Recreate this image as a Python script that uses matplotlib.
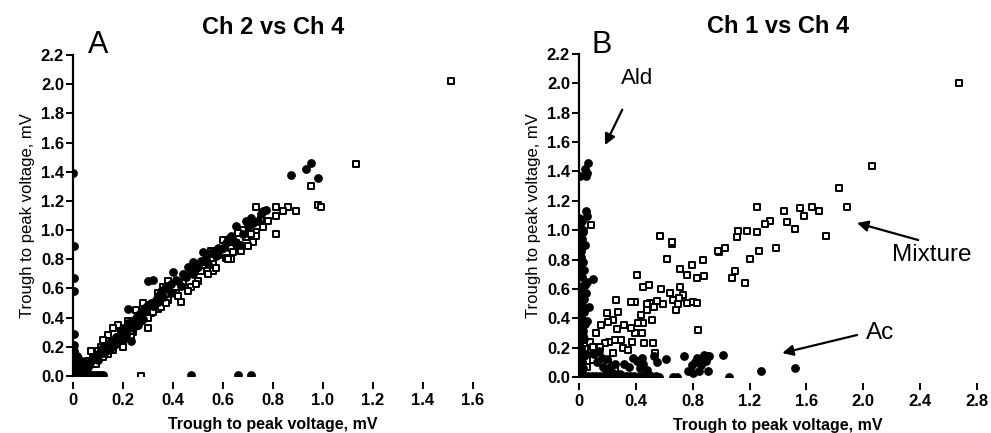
import numpy as np
import matplotlib.pyplot as plt

# Panel A: Ch 2 (x) vs Ch 4 (y)
a_circ_x = [0.0, 0.005, 0.005, 0.004, 0.004, 0.004, 0.003, 0.005, 0.004, 0.006, 0.005, 0.004, 0.003,
            0.01, 0.02, 0.03, 0.04, 0.05, 0.06, 0.07, 0.08, 0.09, 0.10, 0.11, 0.12, 0.47, 0.66, 0.71,
            0.02, 0.03, 0.04, 0.05, 0.03, 0.02, 0.01, 0.01, 0.015, 0.02, 0.025, 0.035, 0.045, 0.05,
            0.02, 0.06, 0.015, 0.03, 0.04,
            0.05, 0.07, 0.08, 0.10, 0.11, 0.12, 0.13, 0.14, 0.15, 0.16, 0.17, 0.18, 0.19, 0.20, 0.21,
            0.22, 0.22, 0.23, 0.24, 0.25, 0.26, 0.27, 0.28, 0.29, 0.30, 0.30, 0.32, 0.31, 0.33, 0.34,
            0.35, 0.36, 0.37, 0.38, 0.39, 0.40, 0.41, 0.42, 0.44, 0.45, 0.46, 0.47, 0.48, 0.49, 0.50,
            0.51, 0.52, 0.53, 0.55, 0.56, 0.58, 0.59, 0.60, 0.61, 0.62, 0.63, 0.65, 0.66, 0.67, 0.69,
            0.70, 0.71, 0.72, 0.75, 0.76, 0.77, 0.87, 0.93, 0.95, 0.98,
            0.06, 0.09, 0.12, 0.14, 0.17, 0.19, 0.21, 0.24, 0.26, 0.28, 0.32, 0.34, 0.36, 0.39, 0.43,
            0.48, 0.54, 0.57, 0.64, 0.68, 0.74, 0.10, 0.15, 0.23, 0.27]
a_circ_y = [1.39, 0.89, 0.67, 0.58, 0.29, 0.21, 0.17, 0.14, 0.11, 0.08, 0.06, 0.04, 0.02,
            0.005, 0.005, 0.005, 0.005, 0.005, 0.005, 0.005, 0.005, 0.005, 0.005, 0.005, 0.005, 0.005, 0.005, 0.005,
            0.04, 0.06, 0.03, 0.07, 0.10, 0.08, 0.02, 0.05, 0.08, 0.01, 0.03, 0.05, 0.06, 0.03,
            0.12, 0.06, 0.14, 0.02, 0.09,
            0.09, 0.10, 0.13, 0.15, 0.18, 0.20, 0.17, 0.22, 0.24, 0.21, 0.27, 0.26, 0.30, 0.33, 0.31,
            0.36, 0.46, 0.24, 0.38, 0.40, 0.42, 0.44, 0.45, 0.47, 0.49, 0.65, 0.66, 0.50, 0.52, 0.55,
            0.58, 0.59, 0.62, 0.60, 0.63, 0.71, 0.66, 0.65, 0.70, 0.68, 0.75, 0.72, 0.78, 0.74, 0.75,
            0.79, 0.85, 0.80, 0.84, 0.86, 0.88, 0.87, 0.88, 0.91, 0.94, 0.96, 1.03, 0.90, 0.90, 1.06,
            1.03, 1.08, 1.05, 1.11, 1.13, 1.14, 1.38, 1.42, 1.46, 1.36,
            0.08, 0.12, 0.16, 0.19, 0.22, 0.25, 0.28, 0.33, 0.35, 0.39, 0.48, 0.51, 0.54, 0.57, 0.62,
            0.70, 0.77, 0.82, 0.93, 0.97, 1.06, 0.11, 0.19, 0.34, 0.41]

a_sq_x = [1.51, 1.13, 0.95, 0.98, 0.99, 0.89, 0.86, 0.84, 0.81, 0.81, 0.81, 0.78, 0.75, 0.73, 0.73,
          0.73, 0.72, 0.70, 0.67, 0.68, 0.66, 0.63, 0.61, 0.60, 0.59, 0.56, 0.56, 0.55, 0.52, 0.51,
          0.50, 0.47, 0.44, 0.43, 0.41, 0.38, 0.36, 0.38, 0.34, 0.30, 0.28, 0.25, 0.24, 0.22, 0.19,
          0.18, 0.16, 0.14, 0.12, 0.11, 0.10, 0.07, 0.09, 0.06, 0.04, 0.27, 0.31, 0.34, 0.40, 0.45,
          0.48, 0.63, 0.20, 0.16, 0.14, 0.26, 0.23, 0.29, 0.33, 0.53, 0.58, 0.65, 0.69,
          0.08, 0.10, 0.13, 0.15, 0.17, 0.21, 0.23, 0.25, 0.27, 0.30, 0.32, 0.35, 0.37, 0.42, 0.46,
          0.49, 0.54, 0.57, 0.62, 0.64, 0.71, 0.76, 0.05, 0.12, 0.20]
a_sq_y = [2.02, 1.45, 1.30, 1.17, 1.16, 1.13, 1.16, 1.13, 1.16, 1.10, 0.97, 1.06, 1.07, 1.16, 0.99,
          0.96, 0.92, 0.89, 0.86, 1.00, 0.98, 0.88, 0.81, 0.93, 0.87, 0.72, 0.77, 0.86, 0.76, 0.72,
          0.65, 0.61, 0.64, 0.51, 0.57, 0.65, 0.61, 0.52, 0.57, 0.33, 0.50, 0.45, 0.30, 0.38, 0.32,
          0.35, 0.33, 0.28, 0.25, 0.20, 0.17, 0.17, 0.08, 0.10, 0.06, 0.0, 0.43, 0.46, 0.57, 0.68,
          0.70, 0.80, 0.20, 0.18, 0.15, 0.36, 0.27, 0.41, 0.48, 0.78, 0.83, 0.91, 0.95,
          0.12, 0.14, 0.19, 0.22, 0.24, 0.29, 0.31, 0.34, 0.38, 0.40, 0.44, 0.47, 0.50, 0.55, 0.58,
          0.63, 0.70, 0.74, 0.80, 0.85, 0.97, 1.02, 0.05, 0.13, 0.25]

# Panel B: Ch 1 (x) vs Ch 4 (y)
b_circ_x = [0.066, 0.042, 0.059, 0.050, 0.007, 0.050, 0.059, 0.026, 0.005, 0.030, 0.004, 0.019, 0.098,
            0.054, 0.049, 0.010, 0.068, 0.059, 0.012, 0.010, 0.004, 0.008, 0.002,
            0.003, 0.006, 0.004, 0.012, 0.005, 0.015, 0.003, 0.008, 0.006, 0.020, 0.004, 0.010,
            0.006, 0.014, 0.004, 0.009, 0.025, 0.003, 0.011, 0.035, 0.005,
            0.018, 0.030, 0.022, 0.040, 0.015, 0.028, 0.036, 0.020, 0.045, 0.012, 0.032, 0.024,
            0.038, 0.016, 0.042, 0.026, 0.034, 0.014, 0.048, 0.022, 0.030, 0.018,
            0.106, 0.129, 0.159, 0.171, 0.190, 0.218, 0.256, 0.317, 0.349, 0.378, 0.406, 0.453,
            0.476, 0.490, 0.530, 0.546, 0.612, 0.565, 0.664, 0.690, 0.739, 0.765, 0.793, 0.816,
            0.828, 0.851, 0.860, 0.879, 0.894, 0.910, 0.917, 0.910, 0.842, 0.800, 1.011, 1.053,
            1.278, 1.520, 0.14, 0.20, 0.24, 0.29, 0.43, 0.50, 0.44,
            0.03, 0.06, 0.09, 0.12, 0.15, 0.18, 0.21, 0.24, 0.27, 0.30, 0.33, 0.36, 0.39, 0.42, 0.45,
            0.48, 0.51, 0.54]
b_circ_y = [1.46, 1.42, 1.39, 1.37, 1.37, 1.13, 1.10, 1.00, 0.95, 0.89, 0.80, 0.72, 0.67,
            0.65, 0.57, 0.55, 0.48, 0.38, 0.38, 0.30, 0.25, 0.09, 0.05,
            1.08, 1.05, 1.02, 0.98, 0.92, 0.86, 0.84, 0.76, 0.70, 0.62, 0.60, 0.52,
            0.45, 0.42, 0.35, 0.33, 0.28, 0.22, 0.18, 0.14, 0.12,
            1.06, 0.99, 0.94, 0.90, 0.82, 0.78, 0.73, 0.68, 0.63, 0.58, 0.53, 0.49,
            0.44, 0.40, 0.36, 0.31, 0.26, 0.20, 0.16, 0.10, 0.06, 0.03,
            0.16, 0.10, 0.13, 0.07, 0.05, 0.07, 0.09, 0.09, 0.07, 0.13, 0.11, 0.09,
            0.05, 0.014, 0.14, 0.10, 0.12, 0.0, 0.0, 0.0, 0.14, 0.04, 0.08, 0.10,
            0.13, 0.12, 0.08, 0.15, 0.11, 0.14, 0.14, 0.04, 0.04, 0.03, 0.15, 0.0,
            0.04, 0.06, 0.18, 0.12, 0.03, 0.02, 0.06, 0.01, 0.13,
            0.005, 0.005, 0.005, 0.005, 0.005, 0.005, 0.005, 0.005, 0.005, 0.005, 0.005, 0.005,
            0.005, 0.005, 0.005, 0.005, 0.005, 0.005]

b_sq_x = [2.676, 2.064, 1.832, 1.883, 1.738, 1.691, 1.639, 1.585, 1.553, 1.517, 1.466, 1.440, 1.386,
          1.346, 1.309, 1.252, 1.255, 1.266, 1.201, 1.182, 1.119, 1.114, 1.170, 1.097, 1.079, 1.027,
          0.987, 0.980, 0.870, 0.797, 0.879, 0.828, 0.757, 0.711, 0.657, 0.619, 0.570, 0.410, 0.492,
          0.453, 0.579, 0.643, 0.591, 0.711, 0.664, 0.694, 0.680, 0.734, 0.760, 0.804, 0.828, 0.840,
          0.500, 0.528, 0.476, 0.516, 0.434, 0.453, 0.413, 0.392, 0.364, 0.396, 0.441, 0.457, 0.518,
          0.535, 0.373, 0.369, 0.317, 0.270, 0.295, 0.256, 0.263, 0.277, 0.237, 0.202, 0.199, 0.155,
          0.117, 0.077, 0.030, 0.211, 0.183, 0.148, 0.101, 0.040, 0.108, 0.101, 0.059, 0.143, 0.206,
          0.253, 0.242, 0.312, 0.342, 0.021, 0.084, 0.003, 0.657, 0.700, 0.550, 0.480]
b_sq_y = [2.005, 1.437, 1.285, 1.156, 0.960, 1.129, 1.160, 1.097, 1.149, 1.010, 1.056, 1.129, 0.876,
          1.065, 1.044, 1.156, 0.985, 0.860, 0.806, 0.994, 0.997, 0.951, 0.643, 0.720, 0.677, 0.876,
          0.851, 0.860, 0.797, 0.761, 0.688, 0.677, 0.693, 0.738, 0.904, 0.806, 0.960, 0.695, 0.627,
          0.611, 0.602, 0.570, 0.495, 0.615, 0.524, 0.495, 0.456, 0.559, 0.502, 0.513, 0.506, 0.320,
          0.502, 0.479, 0.456, 0.388, 0.422, 0.366, 0.366, 0.513, 0.513, 0.297, 0.297, 0.229, 0.229,
          0.161, 0.241, 0.332, 0.354, 0.325, 0.252, 0.252, 0.525, 0.445, 0.388, 0.377, 0.434, 0.354,
          0.297, 0.241, 0.252, 0.241, 0.229, 0.207, 0.207, 0.188, 0.161, 0.116, 0.070, 0.127, 0.093,
          0.048, 0.161, 0.195, 0.184, 0.116, 1.035, 0.930, 0.920, 0.540, 0.520, 0.500]

plt.rcParams['font.family'] = ['Liberation Sans', 'DejaVu Sans']

fig = plt.figure(figsize=(9.91, 4.33), dpi=100)
ax_a = fig.add_axes([73 / 991, (433 - 376) / 433, 400 / 991, 321 / 433])
ax_b = fig.add_axes([579 / 991, (433 - 377) / 433, 398 / 991, 323 / 433])

def style_axis(ax, xmax, xticks, xlabels):
    ax.set_xlim(0, xmax)
    ax.set_ylim(0, 2.2)
    ax.spines['top'].set_visible(False)
    ax.spines['right'].set_visible(False)
    ax.spines['bottom'].set_visible(False)
    ax.spines['bottom'].set_position(('outward', 4))
    ax.spines['left'].set_linewidth(1.6)
    ax.set_xticks(xticks)
    ax.set_xticklabels(xlabels)
    ax.set_yticks(np.arange(0, 2.21, 0.2))
    ax.set_yticklabels([f"{v:.1f}" for v in np.arange(0, 2.21, 0.2)])
    ax.tick_params(axis='x', direction='out', length=5, width=1.4, pad=3, labelsize=12)
    ax.tick_params(axis='y', direction='out', length=5, width=1.4, pad=1.5, labelsize=12)
    for lab in ax.get_xticklabels() + ax.get_yticklabels():
        lab.set_fontweight('bold')
    ax.set_xlabel("Trough to peak voltage, mV", fontsize=11.5, fontweight='bold', labelpad=7)
    ax.set_ylabel("Trough to peak voltage, mV", fontsize=12, labelpad=4)

def draw(ax, cx, cy, sx, sy):
    ax.scatter(cx, cy, s=40, color='black', marker='o', linewidths=0, zorder=3)
    ax.scatter(sx, sy, s=21, facecolors='white', edgecolors='black', marker='s',
               linewidths=1.4, zorder=2)

draw(ax_a, a_circ_x, a_circ_y, a_sq_x, a_sq_y)
style_axis(ax_a, 1.6, np.arange(0, 1.61, 0.2), ["0"] + [f"{v:.1f}" for v in np.arange(0.2, 1.61, 0.2)])

draw(ax_b, b_circ_x, b_circ_y, b_sq_x, b_sq_y)
style_axis(ax_b, 2.8, np.arange(0, 2.81, 0.4), ["0"] + [f"{v:.1f}" for v in np.arange(0.4, 2.81, 0.4)])

ax_a.set_title("Ch 2 vs Ch 4", fontsize=17, fontweight='bold', pad=15)
ax_b.set_title("Ch 1 vs Ch 4", fontsize=17, fontweight='bold', pad=15)
ax_a.text(0.062, 1.032, "A", transform=ax_a.transAxes, fontsize=22, va='center', ha='center')
ax_b.text(0.058, 1.028, "B", transform=ax_b.transAxes, fontsize=22, va='center', ha='center')

arrow = dict(arrowstyle='-|>', color='black', lw=1.6, mutation_scale=16)
ax_b.annotate("Ald", xy=(0.183, 1.58), xytext=(0.41, 2.03), fontsize=16,
              ha='center', va='center', arrowprops=dict(arrow, shrinkA=14, shrinkB=0))
ax_b.annotate("", xy=(1.956, 1.049), xytext=(2.386, 0.933), arrowprops=dict(arrow, shrinkA=0, shrinkB=0))
ax_b.text(2.48, 0.83, "Mixture", fontsize=17.5, ha='center', va='center')
ax_b.annotate("", xy=(1.43, 0.163), xytext=(1.956, 0.286), arrowprops=dict(arrow, shrinkA=0, shrinkB=0))
ax_b.text(2.12, 0.30, "Ac", fontsize=17.5, ha='center', va='center')

fig.savefig("out.png", dpi=100)
